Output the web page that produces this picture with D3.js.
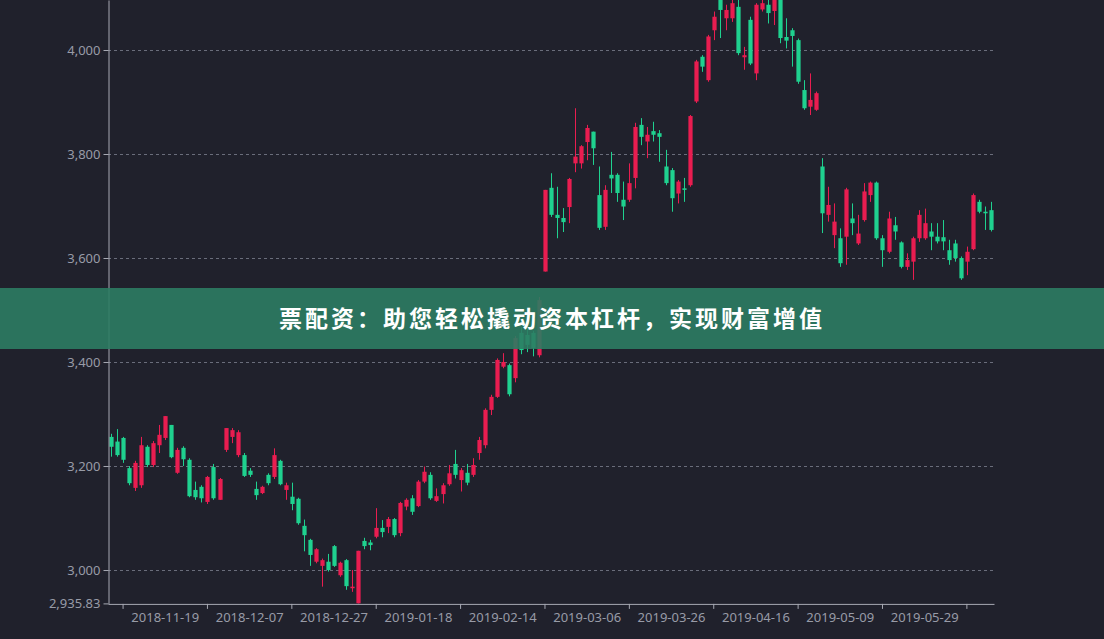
<!DOCTYPE html>
<html>
<head>
<meta charset="utf-8">
<script src="https://cdn.jsdelivr.net/npm/d3@7/dist/d3.min.js"></script>
<style>
  html, body { margin: 0; padding: 0; background: #20212c; }
  svg { display: block; }
</style>
</head>
<body>
<svg id="chart" width="1104" height="639"></svg>
<script>
// ---------- DATA ----------
const dates = [
"2018-11-06","2018-11-07","2018-11-08","2018-11-09","2018-11-12","2018-11-13","2018-11-14","2018-11-15","2018-11-16","2018-11-19",
"2018-11-20","2018-11-21","2018-11-22","2018-11-23","2018-11-26","2018-11-27","2018-11-28","2018-11-29","2018-11-30","2018-12-03",
"2018-12-04","2018-12-05","2018-12-06","2018-12-07","2018-12-10","2018-12-11","2018-12-12","2018-12-13","2018-12-14","2018-12-17",
"2018-12-18","2018-12-19","2018-12-20","2018-12-21","2018-12-24","2018-12-25","2018-12-26","2018-12-27","2018-12-28","2019-01-02",
"2019-01-03","2019-01-04","2019-01-07","2019-01-08","2019-01-09","2019-01-10","2019-01-11","2019-01-14","2019-01-15","2019-01-16",
"2019-01-17","2019-01-18","2019-01-21","2019-01-22","2019-01-23","2019-01-24","2019-01-25","2019-01-28","2019-01-29","2019-01-30",
"2019-01-31","2019-02-01","2019-02-11","2019-02-12","2019-02-13","2019-02-14","2019-02-15","2019-02-18","2019-02-19","2019-02-20",
"2019-02-21","2019-02-22","2019-02-25","2019-02-26","2019-02-27","2019-02-28","2019-03-01","2019-03-04","2019-03-05","2019-03-06",
"2019-03-07","2019-03-08","2019-03-11","2019-03-12","2019-03-13","2019-03-14","2019-03-15","2019-03-18","2019-03-19","2019-03-20",
"2019-03-21","2019-03-22","2019-03-25","2019-03-26","2019-03-27","2019-03-28","2019-03-29","2019-04-01","2019-04-02","2019-04-03",
"2019-04-04","2019-04-08","2019-04-09","2019-04-10","2019-04-11","2019-04-12","2019-04-15","2019-04-16","2019-04-17","2019-04-18",
"2019-04-19","2019-04-22","2019-04-23","2019-04-24","2019-04-25","2019-04-26","2019-04-29","2019-04-30","2019-05-06","2019-05-07",
"2019-05-08","2019-05-09","2019-05-10","2019-05-13","2019-05-14","2019-05-15","2019-05-16","2019-05-17","2019-05-20","2019-05-21",
"2019-05-22","2019-05-23","2019-05-24","2019-05-27","2019-05-28","2019-05-29","2019-05-30","2019-05-31","2019-06-03","2019-06-04",
"2019-06-05","2019-06-06","2019-06-10","2019-06-11","2019-06-12","2019-06-13","2019-06-14"
];

const opens = [
3256,3247,3254,3196,3158,3163,3237,3202,3240,3254,
3279,3187,3235,3212,3154,3160,3131,3198,3135,3231,
3256,3221,3221,3191,3156,3148,3183,3179,3210,3154,
3141,3137,3085,3058,3016,3008,3016,3046,2990,3019,
2965,2936,3056,3053,3064,3081,3083,3098,3071,3122,
3138,3123,3170,3183,3133,3146,3165,3204,3173,3187,
3183,3225,3240,3308,3333,3391,3394,3369,3456,3452,
3456,3413,3574,3735,3683,3677,3698,3782,3782,3823,
3843,3721,3660,3760,3760,3712,3712,3754,3856,3824,
3844,3840,3776,3769,3724,3734,3740,3901,3987,3942,
4038,4098,4061,4061,4083,3986,4058,3955,4078,4087,
4075,4110,4025,4038,4019,3923,3891,3885,3776,3683,
3644,3638,3641,3676,3628,3673,3721,3745,3638,3612,
3663,3630,3583,3593,3638,3638,3651,3641,3640,3615,
3628,3600,3593,3617,3708,3689,3692
];

const closes = [
3237,3221,3212,3167,3206,3240,3202,3244,3260,3296,
3217,3231,3213,3142,3140,3138,3179,3138,3175,3273,
3269,3265,3181,3183,3144,3160,3167,3221,3165,3163,
3127,3090,3067,3029,3040,3019,3000,3008,3014,2969,
2968,3037,3046,3048,3081,3073,3098,3067,3129,3135,
3112,3170,3189,3138,3142,3163,3186,3183,3192,3168,
3202,3250,3308,3333,3404,3400,3338,3446,3423,3433,
3427,3519,3731,3683,3677,3669,3752,3795,3815,3850,
3811,3658,3731,3753,3725,3699,3744,3852,3833,3837,
3837,3833,3744,3715,3747,3731,3873,3978,3968,4026,
4064,4077,4077,4090,3994,3990,3974,4087,4090,4071,
4110,4023,4018,4027,3939,3888,3904,3917,3686,3702,
3670,3590,3732,3667,3647,3728,3745,3638,3615,3676,
3651,3583,3596,3638,3683,3667,3641,3632,3632,3596,
3600,3561,3612,3721,3689,3686,3654
];

const lows = [
3218,3218,3206,3163,3152,3158,3198,3198,3225,3250,
3215,3185,3200,3140,3135,3130,3127,3135,3135,3227,
3244,3217,3179,3179,3135,3146,3163,3175,3163,3135,
3115,3087,3036,3008,3013,2968,2997,3006,2987,2962,
2958,2935.83,3040,3038,3061,3063,3071,3063,3065,3115,
3106,3121,3167,3135,3131,3128,3162,3176,3151,3163,
3179,3212,3234,3298,3331,3388,3334,3361,3415,3419,
3411,3409,3574,3679,3638,3650,3667,3765,3772,3788,
3779,3654,3654,3725,3708,3673,3708,3734,3817,3792,
3824,3785,3740,3689,3705,3708,3737,3898,3958,3939,
4019,4023,4038,4054,3990,3962,3971,3942,4074,4051,
4048,4013,4003,3968,3935,3885,3875,3883,3648,3670,
3619,3583,3587,3644,3625,3670,3708,3635,3583,3609,
3635,3580,3577,3558,3631,3635,3615,3628,3615,3587,
3593,3558,3567,3615,3686,3654,3651
];

const highs = [
3262,3271,3256,3200,3210,3256,3240,3248,3279,3296,
3279,3235,3238,3215,3170,3163,3181,3204,3177,3273,
3273,3269,3225,3196,3170,3162,3186,3234,3212,3168,
3168,3139,3097,3060,3042,3022,3031,3048,3016,3021,
3000,3037,3062,3058,3119,3096,3102,3100,3131,3138,
3144,3173,3199,3188,3157,3167,3202,3231,3196,3204,
3215,3256,3311,3337,3407,3417,3397,3450,3467,3475,
3460,3525,3731,3763,3737,3696,3754,3888,3817,3856,
3843,3776,3740,3804,3763,3747,3782,3860,3869,3852,
3862,3846,3808,3773,3750,3754,3875,3981,3990,4029,
4074,4105,4087,4100,4100,4006,4064,4090,4105,4100,
4126,4115,4061,4042,4022,3942,3955,3920,3792,3737,
3705,3657,3735,3705,3683,3744,3747,3747,3644,3689,
3679,3632,3609,3641,3692,3695,3667,3667,3673,3635,
3635,3603,3622,3724,3712,3699,3708
];

const yTickValues = [2935.83, 3000, 3200, 3400, 3600, 3800, 4000];
const xTickDates  = ["2018-11-08","2018-11-28","2018-12-18","2019-01-09","2019-01-29","2019-02-25","2019-03-15","2019-04-04","2019-04-25","2019-05-20","2019-06-10"];
const xLabelDates = ["2018-11-19","2018-12-07","2018-12-27","2019-01-18","2019-02-14","2019-03-06","2019-03-26","2019-04-16","2019-05-09","2019-05-29"];
const bannerText = "票配资：助您轻松撬动资本杠杆，实现财富增值";

// ---------- LAYOUT ----------
const W = 1104, H = 639;
const plot = { left: 108, right: 994, top: 0, bottom: 603.4 };
const upColor = "#e91d50", downColor = "#1fd18f";
const axisColor = "#a7a9b3", textColor = "#989ba7", gridColor = "#6a6d7b";

const svg = d3.select("#chart");
svg.append("rect").attr("width", W).attr("height", H).attr("fill", "#20212c");

const x = d3.scaleBand().domain(dates).range([plot.left, plot.right]).paddingInner(0.3).paddingOuter(0.15);
const y = d3.scaleLinear().domain([2935.83, 4096.15]).range([plot.bottom, plot.top]);

// grid lines
svg.append("g").selectAll("line")
  .data(yTickValues.filter(v => v >= 3000))
  .join("line")
  .attr("x1", plot.left).attr("x2", plot.right)
  .attr("y1", d => Math.round(y(d)) + 0.5).attr("y2", d => Math.round(y(d)) + 0.5)
  .attr("stroke", gridColor).attr("stroke-dasharray", "3,3").attr("stroke-width", 1);

// candles
const data = dates.map((d, i) => ({ date: d, o: opens[i], c: closes[i], l: lows[i], h: highs[i] }));
const cg = svg.append("g");
const cx = d => x(d.date) + x.bandwidth() / 2;
cg.selectAll("line.wick").data(data).join("line")
  .attr("class", "wick")
  .attr("x1", d => Math.round(cx(d)) + 0.5).attr("x2", d => Math.round(cx(d)) + 0.5)
  .attr("y1", d => y(d.h)).attr("y2", d => y(d.l))
  .attr("stroke", d => d.c >= d.o ? upColor : downColor).attr("stroke-width", 1);
cg.selectAll("rect.body").data(data).join("rect")
  .attr("class", "body")
  .attr("x", d => Math.round(cx(d)) + 0.5 - x.bandwidth() / 2)
  .attr("width", x.bandwidth())
  .attr("y", d => y(Math.max(d.o, d.c)))
  .attr("height", d => Math.max(1, Math.abs(y(d.o) - y(d.c))))
  .attr("fill", d => d.c >= d.o ? upColor : downColor);

// y axis
const yAxis = d3.axisLeft(y).tickValues(yTickValues).tickFormat(d3.format(",")).tickSize(5).tickSizeOuter(0).tickPadding(3);
const yg = svg.append("g").attr("transform", `translate(${plot.left + 0.5},0)`).call(yAxis);
yg.select(".domain").attr("stroke", axisColor);
yg.selectAll(".tick line").attr("stroke", axisColor);
yg.selectAll(".tick text").attr("fill", textColor).attr("font-size", 13).attr("font-family", "'Noto Sans', sans-serif");

// x axis (ticks)
const xAxis = d3.axisBottom(x).tickValues(xTickDates).tickFormat("").tickSize(5).tickSizeOuter(0);
const xg = svg.append("g").attr("transform", `translate(0,${plot.bottom + 0.5})`).call(xAxis);
xg.select(".domain").attr("stroke", axisColor);
xg.selectAll(".tick line").attr("stroke", axisColor);

// x axis (labels)
const xLab = d3.axisBottom(x).tickValues(xLabelDates).tickSize(0).tickPadding(9);
const xl = svg.append("g").attr("transform", `translate(0,${plot.bottom + 0.5})`).call(xLab);
xl.select(".domain").remove();
xl.selectAll(".tick text").attr("fill", textColor).attr("font-size", 13).attr("font-family", "'Noto Sans', sans-serif");

// banner
svg.append("rect").attr("x", 0).attr("y", 288).attr("width", W).attr("height", 61)
  .attr("fill", "#2c7c63").attr("fill-opacity", 0.9);
svg.append("text").attr("x", W / 2).attr("y", 321)
  .attr("text-anchor", "middle").attr("dominant-baseline", "middle")
  .attr("fill", "#ffffff").attr("font-size", 23).attr("font-weight", "bold")
  .attr("letter-spacing", 3)
  .attr("font-family", "'Noto Sans CJK SC', sans-serif")
  .text(bannerText);
</script>
</body>
</html>
